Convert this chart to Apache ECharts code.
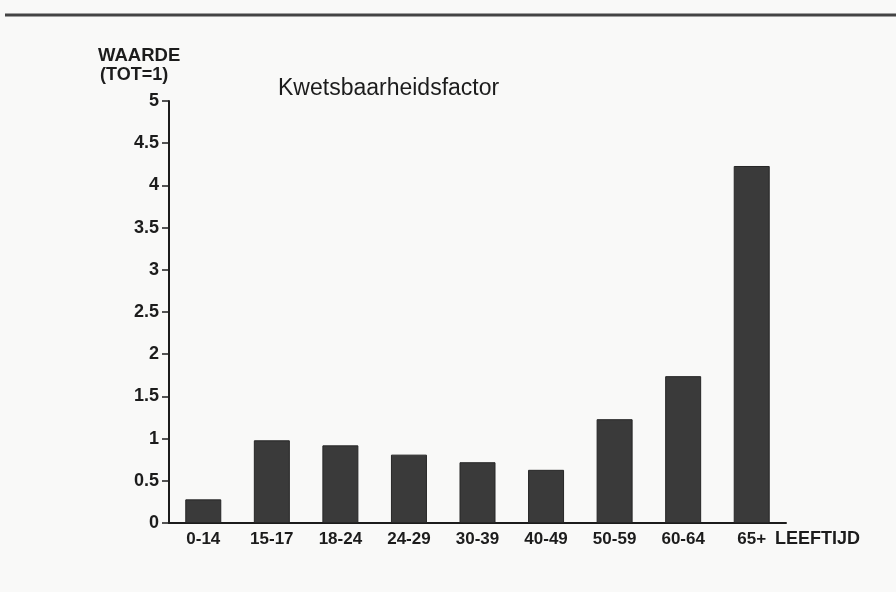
<!DOCTYPE html>
<html>
<head>
<meta charset="utf-8">
<script src="https://cdn.jsdelivr.net/npm/echarts@6/dist/echarts.min.js"></script>
<style>
  html, body { margin: 0; padding: 0; background: #f9f9f8; }
  #chart { width: 896px; height: 592px; }
</style>
</head>
<body>
<div id="chart"></div>
<script>
// Age groups and vulnerability factor (total = 1)
const ageGroups = ['0-14', '15-17', '18-24', '24-29', '30-39', '40-49', '50-59', '60-64', '65+'];
const factorValues = [0.28, 0.98, 0.92, 0.81, 0.72, 0.63, 1.23, 1.74, 4.23];
const yTicks = { min: 0, max: 5, interval: 0.5 };

const FONT = '"Liberation Sans", Arial, Helvetica, sans-serif';
const INK = '#1c1c1c';

const chart = echarts.init(document.getElementById('chart'), null, { renderer: 'canvas' });

chart.setOption({
  backgroundColor: '#f9f9f8',
  animation: false,
  title: {
    text: 'Kwetsbaarheidsfactor',
    left: 273,
    top: 72,
    textStyle: { fontFamily: FONT, fontSize: 23, fontWeight: 'normal', color: INK }
  },
  grid: { left: 169, right: 110, top: 101, bottom: 69, containLabel: false },
  xAxis: {
    type: 'category',
    data: ageGroups,
    boundaryGap: true,
    axisLine: { lineStyle: { color: INK, width: 2 } },
    axisTick: { alignWithLabel: true, length: 6, lineStyle: { color: INK, width: 1.5 } },
    axisLabel: { fontFamily: FONT, fontSize: 17, fontWeight: 'bold', color: INK, margin: 8, interval: 0 },
    splitLine: { show: false }
  },
  yAxis: {
    type: 'value',
    min: yTicks.min,
    max: yTicks.max,
    interval: yTicks.interval,
    axisLine: { show: true, lineStyle: { color: INK, width: 2 } },
    axisTick: { show: true, length: 7, lineStyle: { color: INK, width: 1.5 } },
    axisLabel: { fontFamily: FONT, fontSize: 18, fontWeight: 'bold', color: INK, margin: 10 },
    splitLine: { show: false }
  },
  series: [{
    type: 'bar',
    data: factorValues,
    barWidth: 36,
    itemStyle: { color: '#3a3a3a', borderColor: '#262626', borderWidth: 1 }
  }],
  graphic: [
    // rule across the top of the page
    { type: 'line', shape: { x1: 5, y1: 15, x2: 896, y2: 15 },
      style: { stroke: '#444444', lineWidth: 3 } },
    { type: 'text', left: 98, top: 46,
      style: { text: 'WAARDE', font: 'bold 18.5px ' + FONT, fill: INK } },
    { type: 'text', left: 100, top: 66,
      style: { text: '(TOT=1)', font: 'bold 18px ' + FONT, fill: INK } },
    { type: 'text', left: 775, top: 530,
      style: { text: 'LEEFTIJD', font: 'bold 18px ' + FONT, fill: INK } }
  ]
});
</script>
</body>
</html>
